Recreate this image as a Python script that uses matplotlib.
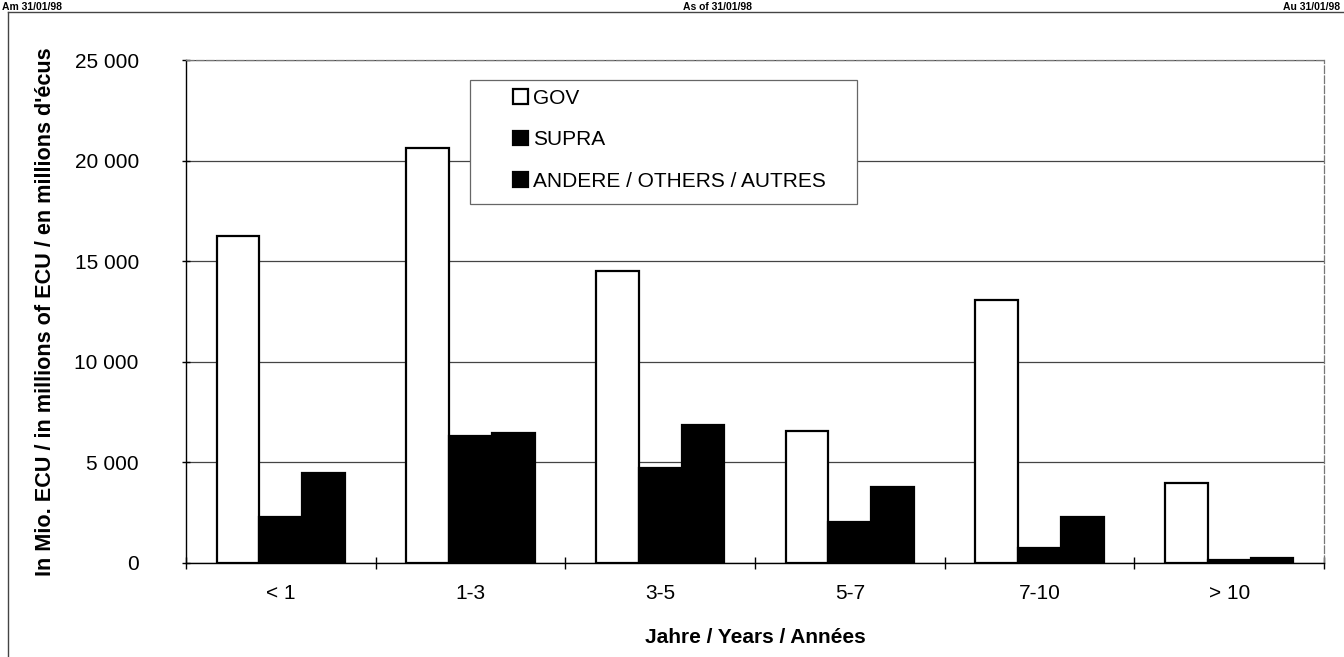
import matplotlib
matplotlib.use("Agg")
import matplotlib.pyplot as plt
from matplotlib.lines import Line2D
from matplotlib.patches import Rectangle
from matplotlib.ticker import FuncFormatter
import numpy as np

categories = ["< 1", "1-3", "3-5", "5-7", "7-10", "> 10"]
gov = [16250, 20650, 14500, 6550, 13050, 3980]
supra = [2290, 6300, 4700, 2040, 750, 130]
others = [4470, 6460, 6860, 3780, 2290, 250]
series_labels = ["GOV", "SUPRA", "ANDERE / OTHERS / AUTRES"]
yticks = [0, 5000, 10000, 15000, 20000, 25000]

plt.rcParams['font.family'] = ['Liberation Sans', 'DejaVu Sans']

W, H = 1344, 657
FS = 15
fig = plt.figure(figsize=(W / 100, H / 100), dpi=100)
ax_l, ax_r, ax_t, ax_b = 186, 1324, 60, 563
ax = fig.add_axes([ax_l / W, 1 - ax_b / H, (ax_r - ax_l) / W, (ax_b - ax_t) / H])

def px_to_axes(px, py):
    return (px - ax_l) / (ax_r - ax_l), (ax_b - py) / (ax_b - ax_t)

x = np.arange(len(categories))
bw = 0.225
ax.bar(x - bw, gov, bw, facecolor="white", edgecolor="black", linewidth=1.6, label=series_labels[0], zorder=3)
ax.bar(x, supra, bw, facecolor="black", edgecolor="black", linewidth=1.6, label=series_labels[1], zorder=3)
ax.bar(x + bw, others, bw, facecolor="black", edgecolor="black", linewidth=1.6, label=series_labels[2], zorder=3)

ax.set_xlim(-0.5, len(categories) - 0.5)
ax.set_ylim(0, 25000)
ax.set_yticks(yticks)
ax.yaxis.set_major_formatter(FuncFormatter(lambda v, p: f"{int(v):,}".replace(",", " ")))
ax.set_xticks(x)
ax.set_xticklabels(categories)
ax.set_xticks(np.arange(-0.5, len(categories) - 0.4, 1.0), minor=True)
ax.tick_params(axis="x", which="major", length=0, pad=15, labelsize=FS)
ax.tick_params(axis="x", which="minor", length=8, direction="inout", width=1)
ax.tick_params(axis="y", length=6, direction="inout", width=1, labelsize=FS, pad=31)

ax.grid(axis="y", color="#444444", linewidth=0.9, zorder=0)
for s in ["left", "bottom"]:
    ax.spines[s].set_color("black")
    ax.spines[s].set_linewidth(1.0)
for s in ["top", "right"]:
    ax.spines[s].set_color("#777777")
    ax.spines[s].set_linewidth(0.9)
    ax.spines[s].set_linestyle((0, (6, 2)))

ax.set_xlabel("Jahre / Years / Années", fontsize=FS, fontweight="bold", labelpad=18)
ax.set_ylabel("In Mio. ECU / in millions of ECU / en millions d'écus", fontsize=15.6,
              fontweight="bold")
ax.yaxis.set_label_coords(px_to_axes(56, 0)[0], px_to_axes(0, 312)[1])

# legend frame
x0, y0 = px_to_axes(470, 204)
x1, y1 = px_to_axes(857, 80)
ax.add_patch(Rectangle((x0, y0), x1 - x0, y1 - y0, transform=ax.transAxes, facecolor="white",
                       edgecolor="#666666", linewidth=0.9, zorder=4, clip_on=False))
lx, ly = px_to_axes(513, 89)
leg = ax.legend(loc="upper left", bbox_to_anchor=(lx, ly), frameon=False, fontsize=FS,
                handlelength=0.7, handleheight=0.7, handletextpad=0.25,
                labelspacing=1.07, borderpad=0, borderaxespad=0)
leg.set_zorder(5)

# outer frame
fig.add_artist(Line2D([8 / W, 8 / W], [0, 1 - 12 / H], color="#444444", linewidth=1.0))
fig.add_artist(Line2D([8 / W, 1], [1 - 12 / H, 1 - 12 / H], color="#444444", linewidth=1.0))

# header texts
fig.text(2 / W, 1 - 10 / H, "Am 31/01/98", fontsize=7.5, fontweight="bold", ha="left", va="baseline")
fig.text(683 / W, 1 - 10 / H, "As of 31/01/98", fontsize=7.5, fontweight="bold", ha="left", va="baseline")
fig.text(1340 / W, 1 - 10 / H, "Au 31/01/98", fontsize=7.5, fontweight="bold", ha="right", va="baseline")

fig.savefig("out.png", dpi=100)
